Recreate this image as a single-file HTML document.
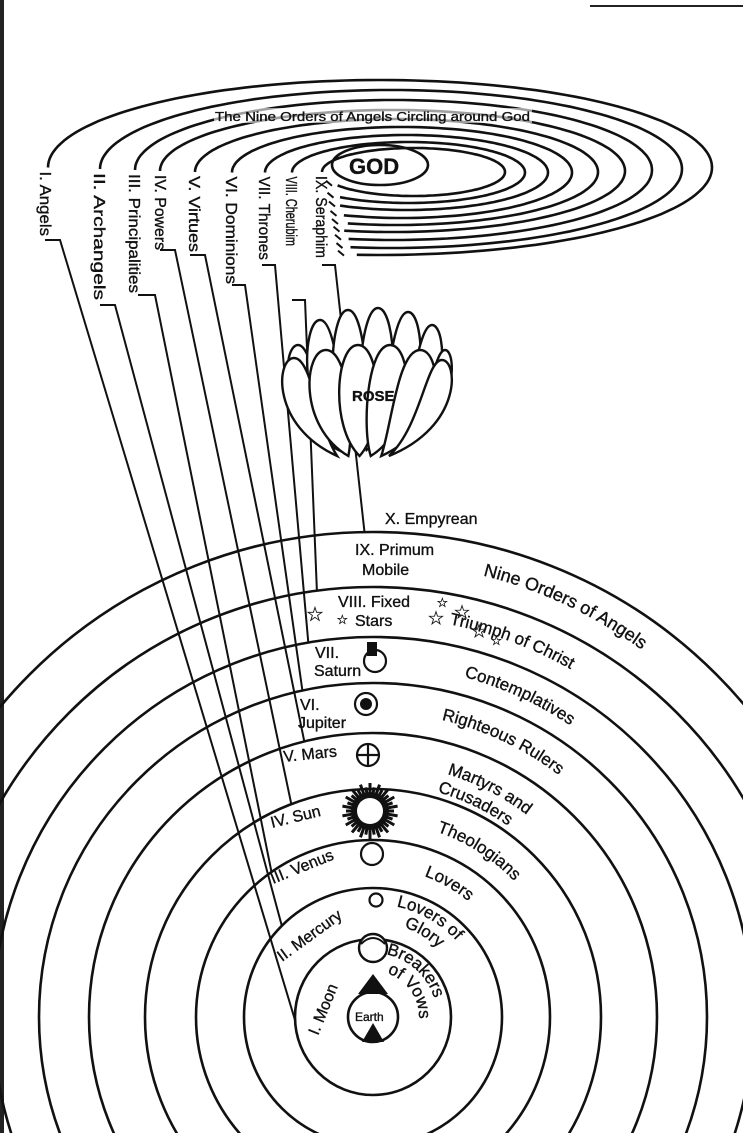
<!DOCTYPE html>
<html><head><meta charset="utf-8"><style>
html,body{margin:0;padding:0;background:#fff;width:743px;height:1133px;overflow:hidden}
svg{display:block}
text{font-family:"Liberation Sans",sans-serif;fill:#111;stroke:#111;stroke-width:0.35}
</style></head><body>
<svg id="s" width="743" height="1133" viewBox="0 0 743 1133" xmlns="http://www.w3.org/2000/svg">
<rect x="0" y="0" width="743" height="1133" fill="#fff"/>
<line x1="2" y1="0" x2="2" y2="1133" stroke="#222" stroke-width="4"/>
<line x1="590" y1="6" x2="743" y2="6" stroke="#222" stroke-width="2"/>
<g id="circ" fill="none" stroke="#111" stroke-width="2.6"></g>
<g id="ell" fill="none" stroke="#111" stroke-width="2.6"></g>
<g id="lines" fill="none" stroke="#111" stroke-width="2"></g>
<g id="rose" stroke="#111" stroke-width="2.4" fill="#fff"></g>
<g id="txt"></g>
</svg>
<script>
var NS="http://www.w3.org/2000/svg";
function el(p,t,a,tx){var e=document.createElementNS(NS,t);for(var k in a)e.setAttribute(k,a[k]);if(tx)e.textContent=tx;(typeof p=="string"?document.getElementById(p):p).appendChild(e);return e;}
var CX=373,CY=1017;
var R=[78,129,177,228,284,334,380,430,485];
R.forEach(function(r){el('circ','circle',{cx:CX,cy:CY,r:r});});
var L=[48,100,135,160,195,232,265,292,322],Rr=[712,682,652,625,598,572,548,525,505],
T=[80,90,100,110,119,127,135,142,148],B=[255,248,240,232,225,218,210,203,196];
var CYs=[];
for(var k=0;k<9;k++){
 var cx=(L[k]+Rr[k])/2,rx=(Rr[k]-L[k])/2,cy=(T[k]+B[k])/2,ry=(B[k]-T[k])/2;CYs.push(cy);
 var endX=348-k*1.5;var c=(endX-cx)/rx;if(c<-0.95)c=-0.95;var endA=360+Math.acos(c)*180/Math.PI;
 var d="";for(var a=180;a<=endA;a+=2){var t=a*Math.PI/180;var x=cx+rx*Math.cos(t),y=cy+ry*Math.sin(t);d+=(d?"L":"M")+x.toFixed(1)+" "+y.toFixed(1);}
 el('ell','path',{d:d});
 var t=endA*Math.PI/180;var x=cx+rx*Math.cos(t),y=cy+ry*Math.sin(t);
 el('ell','path',{d:"M"+(x-10)+" "+(y-4)+"L"+(x-4)+" "+(y+1),"stroke-width":2});
}
el('ell','ellipse',{cx:380,cy:165,rx:48,ry:20});
var st=[[60,240],[115,305],[155,295],[175,250],[205,255],[245,285],[275,265],[305,300],[335,265]];
var tick=[[45,240],[100,305],[138,295],[160,250],[190,255],[232,285],[262,265],[292,300],[322,265]];
var endAs=[-100,-45,-35,-21,-14,-12.2,-9.8,-7.5,-1];
for(var i=0;i<9;i++){
 var r=R[i],a=endAs[i]*Math.PI/180;var ex=CX+r*Math.sin(a),ey=CY-r*Math.cos(a);
 if(i==0){ex=295;ey=1020;}
 el('lines','path',{d:"M"+tick[i][0]+" "+tick[i][1]+"L"+st[i][0]+" "+st[i][1]+"L"+ex.toFixed(1)+" "+ey.toFixed(1)});
}
var back=[[298,345,16],[320,320,18],[348,310,19],[378,308,19],[408,312,18],[432,325,16],[445,350,12]];
var front=[[294,358,18],[326,350,22],[358,345,22],[390,345,22],[420,350,22],[442,360,16]];
function petal(p,by){var tx=p[0],ty=p[1],w=p[2];var bx=362+(tx-365)*0.35;
 return "M"+bx+" "+by+" C"+(tx-w*1.3)+" "+(by-30)+" "+(tx-w)+" "+ty+" "+tx+" "+ty+" C"+(tx+w)+" "+ty+" "+(tx+w*1.3)+" "+(by-30)+" "+bx+" "+by+"Z";}
back.forEach(function(p){el('rose','path',{d:petal(p,450)});});
front.forEach(function(p){el('rose','path',{d:petal(p,456)});});
function tx(x,y,s,fs,rot,extra){var a={x:x,y:y,"font-size":fs||16};if(rot)a.transform="rotate("+rot+" "+x+" "+y+")";for(var k in extra||{})a[k]=extra[k];return el('txt','text',a,s);}
el('txt','rect',{x:214,y:108,width:318,height:15,fill:"#fff",opacity:0.6});
tx(215,121,"The Nine Orders of Angels Circling around God",13,0,{textLength:315,lengthAdjust:"spacingAndGlyphs"});
tx(349,174,"GOD",22,0,{"font-weight":"bold"});
var lab=[["I. Angels",40,236],["II. Archangels",94,300],["III. Principalities",129,293],["IV. Powers",155,250],["V. Virtues",189,252],["VI. Dominions",226,284],["VII. Thrones",259,260],["VIII. Cherubim",286,246],["IX. Seraphim",316,258]];
lab.forEach(function(l,i){var y0=CYs[i]+4;tx(l[1],y0,l[0],16,90,{textLength:l[2]-y0,lengthAdjust:"spacingAndGlyphs"});});
tx(352,401,"ROSE",15,0,{"font-weight":"bold"});
tx(385,524,"X. Empyrean",16);
tx(355,555,"IX. Primum",16);tx(362,575,"Mobile",16);
tx(338,607,"VIII. Fixed",16);tx(355,626,"Stars",16);
tx(315,658,"VII.",16);tx(314,676,"Saturn",16);
tx(300,710,"VI.",16);tx(298,728,"Jupiter",16);
tx(284,762,"V. Mars",16,-6);
tx(272,828,"IV. Sun",16,-14);
tx(273,884,"III. Venus",16,-22);
tx(282,962,"II. Mercury",16,-36);
tx(318,1036,"I. Moon",16,-68);
[[316,613,20],[343,619,13],[437,617,19],[443,602,13],[463,611,19],[480,630,19],[497,640,13]].forEach(function(s){tx(s[0]-s[2]/2,s[1]+s[2]/2.5,"☆",s[2],0,{"stroke-width":1});});
var defs=el('s','defs',{});
var arcs=[["Nine Orders of Angels",455,16,18],["Triumph of Christ",400,13,17],["Contemplatives",352,17,17],["Righteous Rulers",305,15,17],["Martyrs and",254,19,17],["Crusaders",234,18,17],["Theologians",196,21,17],["Lovers",150,22,17],["Lovers of",113,14,17],["Glory",95,21,17],["Breakers",64,14,17],["of Vows",46,20,17]];
arcs.forEach(function(a,i){
 var r=a[1],a0=(a[2]-2)*Math.PI/180,a1=(a[2]+120)*Math.PI/180;
 var x0=CX+r*Math.sin(a0),y0=CY-r*Math.cos(a0),x1=CX+r*Math.sin(a1),y1=CY-r*Math.cos(a1);
 el(defs,'path',{id:"ap"+i,d:"M"+x0+" "+y0+" A"+r+" "+r+" 0 0 1 "+x1+" "+y1});
 var t=el('txt','text',{"font-size":a[3]});
 el(t,'textPath',{href:"#ap"+i},a[0]);
});
var P=document.getElementById('txt');
el(P,'circle',{cx:373,cy:948,r:14,fill:"#fff",stroke:"#111","stroke-width":2.4});
el(P,'path',{d:"M361 944 Q373 932 385 944",fill:"none",stroke:"#111","stroke-width":2});
el(P,'circle',{cx:376,cy:900,r:6.5,fill:"#fff",stroke:"#111","stroke-width":2.2});
el(P,'circle',{cx:372,cy:854,r:11,fill:"#fff",stroke:"#111","stroke-width":2.2});
for(var a=0;a<360;a+=10){var t=a*Math.PI/180;el(P,'line',{x1:370+14*Math.cos(t),y1:811+14*Math.sin(t),x2:370+(24+(a%20?4:0))*Math.cos(t),y2:811+(24+(a%20?4:0))*Math.sin(t),stroke:"#111","stroke-width":3});}
el(P,'circle',{cx:370,cy:811,r:19,fill:"#111"});
el(P,'circle',{cx:370,cy:811,r:13,fill:"#fff"});
el(P,'circle',{cx:368,cy:755,r:11,fill:"#fff",stroke:"#111","stroke-width":2.2});
el(P,'path',{d:"M357 755H379M368 744V766",stroke:"#111","stroke-width":2.2});
el(P,'circle',{cx:366,cy:704,r:11,fill:"#fff",stroke:"#111","stroke-width":2.2});
el(P,'circle',{cx:366,cy:704,r:6,fill:"#111"});
el(P,'circle',{cx:375,cy:661,r:11,fill:"#fff",stroke:"#111","stroke-width":2.2});
el(P,'rect',{x:367,y:642,width:10,height:14,fill:"#111"});
el(P,'circle',{cx:373,cy:1017,r:25,fill:"#fff",stroke:"#111","stroke-width":2.6});
el(P,'path',{d:"M373 974 L358 994 L388 994Z",fill:"#111"});
el(P,'path',{d:"M373 1023 L362 1042 L384 1042Z",fill:"#111"});
el(P,'text',{x:355,y:1021,"font-size":12},"Earth");
</script>
</body></html>
